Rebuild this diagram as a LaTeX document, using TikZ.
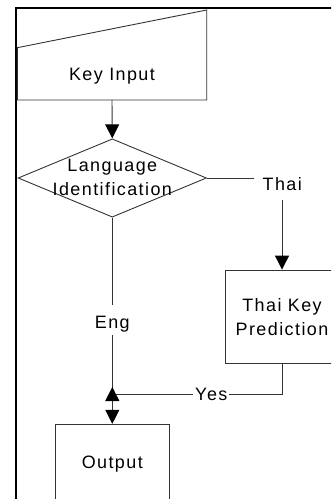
\documentclass[tikz,border=0pt]{standalone}
\usepackage{fontspec}
\setmainfont{Liberation Sans}[LetterSpace=8]
\usetikzlibrary{arrows.meta,shapes.geometric}
\begin{document}
\begin{tikzpicture}[x=1bp,y=-1bp,
  font=\fontsize{18}{24}\selectfont,
  box/.style={draw=black!80, line width=0.9bp, inner sep=0pt},
  conn/.style={draw=black!80, line width=0.9bp},
  tip/.style={-{Triangle[length=14bp,width=14bp,black]}},
  lbl/.style={fill=white, inner ysep=0pt, anchor=base}]
\useasboundingbox (0,0) rectangle (331,499);
\clip (0,0) rectangle (331,499);
% outer frame
\draw[line width=2bp, line join=miter] (16,505) -- (16,7.7) -- (340,7.7);
% Key Input (manual input shape)
\draw[box] (17.3,47.7) -- (206.7,10) -- (206.7,100) -- (17.3,100) -- cycle;
\node[anchor=base] (key) at (112,81) {Key Input};
\coordinate (keybot) at (112,100);
% Language Identification
\node[box, diamond, minimum width=188.4bp, minimum height=78.3bp] (lang) at (112.3,178) {};
\node[align=center] (langtxt) at (112.3,177.6) {Language\\Identification};
% Thai Key Prediction
\node[box, align=center, minimum width=112.6bp, minimum height=93.3bp] (thai) at (282,316.7) {Thai Key\\Prediction};
% Output
\node[box, minimum width=113.3bp, minimum height=79bp] (out) at (112.3,463.8) {Output};
% connectors
\draw[conn, tip] (keybot) -- (lang.north);
\draw[conn, tip] (lang.east) -| (thai.north);
\draw[conn, tip] (lang.south) -- (out.north);
\coordinate (join) at (112.3,394);
\draw[conn] (thai.south) |- (join);
\draw[conn, tip] ([yshift=-8bp]join) -- ([yshift=7bp]join);
% labels
\node[lbl, inner xsep=9bp, text height=16bp, text depth=9.3bp] (lthai) at (282.3,190.7) {Thai};
\node[lbl, inner xsep=3bp, text height=23.4bp, text depth=6.6bp] (leng) at (112.3,328.4) {Eng};
\node[lbl, inner xsep=2bp, text height=14bp, text depth=4bp] (lyes) at (211.3,400.7) {Yes};
\end{tikzpicture}
\end{document}
